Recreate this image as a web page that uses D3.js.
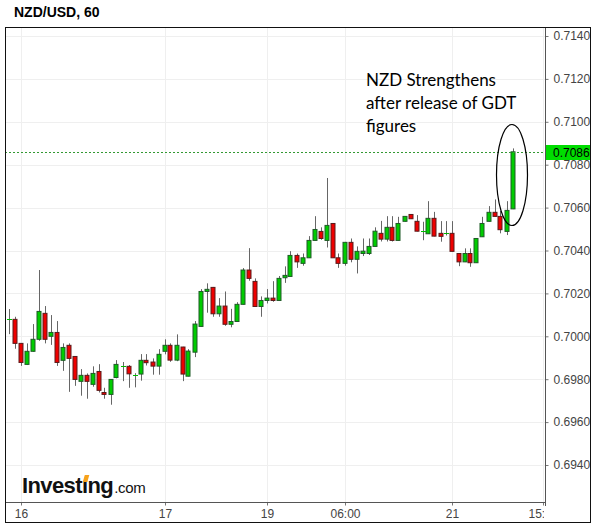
<!DOCTYPE html>
<html>
<head>
<meta charset="utf-8">
<script src="https://cdn.jsdelivr.net/npm/d3@7"></script>
<style>
html,body{margin:0;padding:0;background:#fff;}
svg{display:block;}
</style>
</head>
<body>
<svg id="chart" width="597" height="526"></svg>
<script>
// ---- data (hourly candles, NZD/USD) ----
const open  = [0.70078,0.70079,0.69967,0.69869,0.69930,0.69986,0.70107,0.70000,0.70018,0.69888,
               0.69958,0.69906,0.69790,0.69818,0.69776,0.69836,0.69738,0.69729,0.69808,0.69859,
               0.69860,0.69817,0.69824,0.69888,0.69880,0.69861,0.69930,0.69958,0.69889,0.69950,
               0.69814,0.69926,0.70046,0.70209,0.70228,0.70105,0.70141,0.70056,0.70069,0.70149,
               0.70309,0.70256,0.70139,0.70167,0.70178,0.70167,0.70273,0.70279,0.70377,0.70340,
               0.70366,0.70447,0.70489,0.70447,0.70526,0.70366,0.70340,0.70438,0.70359,0.70386,
               0.70386,0.70419,0.70480,0.70453,0.70508,0.70447,0.70536,0.70568,0.70536,0.70489,
               0.70478,0.70550,0.70480,0.70479,0.70480,0.70386,0.70347,0.70386,0.70343,0.70464,
               0.70536,0.70578,0.70559,0.70489,0.70594];
const high  = [0.70127,0.70091,0.69968,0.69967,0.70057,0.70309,0.70141,0.70099,0.70071,0.69967,
               0.69967,0.69906,0.69847,0.69827,0.69860,0.69870,0.69760,0.69800,0.69889,0.69880,
               0.69866,0.69828,0.69917,0.69917,0.69897,0.69940,0.69986,0.69967,0.70009,0.69951,
               0.69940,0.70071,0.70220,0.70247,0.70230,0.70178,0.70209,0.70128,0.70159,0.70318,
               0.70411,0.70270,0.70186,0.70220,0.70257,0.70281,0.70326,0.70397,0.70386,0.70386,
               0.70467,0.70560,0.70508,0.70738,0.70527,0.70386,0.70440,0.70456,0.70419,0.70456,
               0.70456,0.70508,0.70538,0.70560,0.70560,0.70557,0.70560,0.70570,0.70565,0.70534,
               0.70630,0.70580,0.70537,0.70537,0.70537,0.70387,0.70410,0.70410,0.70456,0.70557,
               0.70607,0.70638,0.70584,0.70630,0.70876];
const low   = [0.70010,0.69942,0.69862,0.69866,0.69928,0.69979,0.69967,0.69960,0.69862,0.69839,
               0.69741,0.69769,0.69723,0.69709,0.69765,0.69738,0.69709,0.69681,0.69804,0.69791,
               0.69760,0.69762,0.69793,0.69864,0.69821,0.69821,0.69916,0.69881,0.69884,0.69791,
               0.69813,0.69903,0.70044,0.70110,0.70091,0.70091,0.70049,0.70042,0.70068,0.70148,
               0.70259,0.70138,0.70091,0.70153,0.70161,0.70166,0.70249,0.70278,0.70319,0.70329,
               0.70365,0.70446,0.70450,0.70414,0.70365,0.70319,0.70329,0.70345,0.70293,0.70374,
               0.70379,0.70418,0.70442,0.70442,0.70442,0.70446,0.70535,0.70547,0.70489,0.70448,
               0.70477,0.70466,0.70441,0.70470,0.70395,0.70327,0.70346,0.70324,0.70342,0.70463,
               0.70535,0.70558,0.70480,0.70472,0.70593];
const close = [0.70080,0.69967,0.69878,0.69930,0.69986,0.70116,0.69986,0.70018,0.69878,0.69948,
               0.69897,0.69799,0.69818,0.69790,0.69827,0.69748,0.69729,0.69799,0.69869,0.69861,
               0.69825,0.69819,0.69888,0.69877,0.69861,0.69916,0.69958,0.69889,0.69958,0.69824,
               0.69931,0.70057,0.70209,0.70219,0.70105,0.70141,0.70056,0.70069,0.70149,0.70309,
               0.70270,0.70139,0.70167,0.70178,0.70167,0.70270,0.70284,0.70377,0.70347,0.70366,
               0.70447,0.70498,0.70456,0.70517,0.70366,0.70340,0.70438,0.70359,0.70396,0.70397,
               0.70419,0.70490,0.70453,0.70508,0.70447,0.70526,0.70559,0.70548,0.70490,0.70491,
               0.70550,0.70467,0.70466,0.70481,0.70396,0.70347,0.70386,0.70343,0.70456,0.70526,
               0.70578,0.70559,0.70497,0.70587,0.70860];
const xTickIndex  = [2, 26, 43, 56, 74, 89];
const xTickLabels = ["16", "17", "19", "06:00", "21", "15:00"];
const yTickValues = [0.6940,0.6960,0.6980,0.7000,0.7020,0.7040,0.7060,0.7080,0.7100,0.7120,0.7140];
const title = "NZD/USD, 60";
const noteLines = ["NZD Strengthens", "after release of GDT", "figures"];

// ---- layout ----
const svg = d3.select("#chart");
const L = 5, R = 545, T = 27, B = 502, FR = 590, FB = 522;
const x = d3.scaleLinear().domain([-7/12, 90 - 7/12]).range([L, R]);
const y = d3.scaleLinear().domain([0.6940, 0.7140]).range([465, 36]);
const cx = i => Math.round(x(i)) + 0.5;
const FONT = "'Liberation Sans', Arial, sans-serif";

svg.append("rect").attr("width", 597).attr("height", 526).attr("fill", "#fff");

const defs = svg.append("defs");
defs.append("clipPath").attr("id", "plotclip")
  .append("rect").attr("x", L).attr("y", T).attr("width", R - L).attr("height", B - T);
defs.append("clipPath").attr("id", "xclip")
  .append("rect").attr("x", 0).attr("y", -2).attr("width", R - 1).attr("height", 30);

// title
svg.append("text").attr("x", 14).attr("y", 17).text(title)
  .attr("font-family", FONT).attr("font-size", 14).attr("font-weight", "bold").attr("fill", "#000");

const plot = svg.append("g").attr("clip-path", "url(#plotclip)");

// grid lines
plot.selectAll(".hg").data(yTickValues).join("line")
  .attr("x1", L).attr("x2", R)
  .attr("y1", d => Math.round(y(d)) + 0.5).attr("y2", d => Math.round(y(d)) + 0.5)
  .attr("stroke", "#efefef").attr("stroke-width", 1);
plot.selectAll(".vg").data(xTickIndex).join("line")
  .attr("x1", d => cx(d)).attr("x2", d => cx(d))
  .attr("y1", T).attr("y2", B)
  .attr("stroke", "#efefef").attr("stroke-width", 1);

// logo
const logoG = svg.append("g");
const inv = logoG.append("text").attr("x", 22).attr("y", 493)
  .attr("font-family", FONT).attr("font-size", 22).attr("font-weight", "bold")
  .attr("letter-spacing", -0.6).attr("fill", "#111").text("Investing");
const invW = inv.node().getComputedTextLength();
logoG.append("text").attr("x", 22 + invW + 1).attr("y", 493)
  .attr("font-family", FONT).attr("font-size", 15).attr("fill", "#111")
  .attr("letter-spacing", -0.3).text(".com");
// orange accent on the i dot
const iX = 22 + inv.node().getSubStringLength(0, 6);
const iW = inv.node().getSubStringLength(6, 1);
logoG.append("rect").attr("x", iX - 0.5).attr("y", 476).attr("width", iW + 1).attr("height", 5).attr("fill", "#fff");
logoG.append("path")
  .attr("d", `M${iX + 0.8},482 L${iX + iW - 0.2},482 L${iX + iW + 1.8},475 L${iX + 2.8},475 Z`)
  .attr("fill", "#f7a21b");

// candles
const data = open.map((o, i) => ({i, o, h: high[i], l: low[i], c: close[i]}));
const cg = plot.append("g");
cg.selectAll(".wick").data(data).join("line")
  .attr("x1", d => cx(d.i)).attr("x2", d => cx(d.i))
  .attr("y1", d => y(d.h)).attr("y2", d => y(d.l))
  .attr("stroke", "#666").attr("stroke-width", 1);
const isDoji = d => Math.abs(y(d.o) - y(d.c)) < 1;
cg.selectAll(".body").data(data.filter(d => !isDoji(d))).join("rect")
  .attr("x", d => cx(d.i) - 2.5)
  .attr("y", d => Math.min(y(d.o), y(d.c)))
  .attr("width", 4)
  .attr("height", d => Math.max(1, Math.abs(y(d.o) - y(d.c))))
  .attr("fill", d => d.c >= d.o ? "#00cc00" : "#ee0000")
  .attr("stroke", d => d.c >= d.o ? "#1f5a27" : "#5a1a1a")
  .attr("stroke-width", 1);
cg.selectAll(".doji").data(data.filter(isDoji)).join("line")
  .attr("x1", d => cx(d.i) - 2.5).attr("x2", d => cx(d.i) + 2.5)
  .attr("y1", d => Math.round(y(d.c)) + 0.5).attr("y2", d => Math.round(y(d.c)) + 0.5)
  .attr("stroke", "#00bb00").attr("stroke-width", 1);

// last price dashed line
const last = close[close.length - 1];
plot.append("line").attr("x1", L).attr("x2", R)
  .attr("y1", Math.round(y(last)) + 0.5).attr("y2", Math.round(y(last)) + 0.5)
  .attr("stroke", "#339933").attr("stroke-width", 1).attr("stroke-dasharray", "2,2");

// annotation
const note = svg.append("text").attr("font-family", "Lato, 'Open Sans', sans-serif")
  .attr("font-size", 17).attr("fill", "#000");
noteLines.forEach((t, k) => note.append("tspan").attr("x", 366).attr("y", 86 + k * 23).text(t));
svg.append("ellipse").attr("cx", 512).attr("cy", 175).attr("rx", 15.5).attr("ry", 50.5)
  .attr("fill", "none").attr("stroke", "#000").attr("stroke-width", 1.2);

// y axis
const yAxis = svg.append("g").attr("transform", `translate(${R + 0.5},0)`)
  .call(d3.axisRight(y).tickValues(yTickValues).tickFormat(d3.format(".4f")).tickSize(3).tickPadding(5));
yAxis.select(".domain").remove();
yAxis.selectAll(".tick line").attr("stroke", "#777");
yAxis.selectAll(".tick text").attr("font-family", FONT).attr("font-size", 12).attr("fill", "#444");

// last price label
const ly = Math.round(y(last));
svg.append("rect").attr("x", R + 1).attr("y", ly - 7).attr("width", FR - R - 1).attr("height", 15).attr("fill", "#00dd00");
svg.append("text").attr("x", R + 8).attr("y", ly + 4.5).text(d3.format(".4f")(last))
  .attr("font-family", FONT).attr("font-size", 12).attr("fill", "#000");

// x axis
const xAxis = svg.append("g").attr("transform", `translate(0,${B + 0.5})`).attr("clip-path", "url(#xclip)")
  .call(d3.axisBottom(x).tickValues(xTickIndex).tickFormat((d, k) => xTickLabels[k]).tickSize(3).tickPadding(4).offset(0));
xAxis.select(".domain").remove();
xAxis.selectAll(".tick").attr("transform", d => `translate(${cx(d)},0)`);
xAxis.selectAll(".tick line").attr("stroke", "#777");
xAxis.selectAll(".tick text").attr("font-family", FONT).attr("font-size", 12).attr("fill", "#444");

// frame / axis lines
svg.append("line").attr("x1", L).attr("x2", R + 0.5).attr("y1", B + 0.5).attr("y2", B + 0.5).attr("stroke", "#555");
svg.append("line").attr("x1", R + 0.5).attr("x2", R + 0.5).attr("y1", T).attr("y2", B + 4).attr("stroke", "#555");
svg.append("rect").attr("x", L + 0.5).attr("y", T + 0.5).attr("width", FR - L).attr("height", FB - T)
  .attr("fill", "none").attr("stroke", "#111").attr("stroke-width", 1);
</script>
</body>
</html>
